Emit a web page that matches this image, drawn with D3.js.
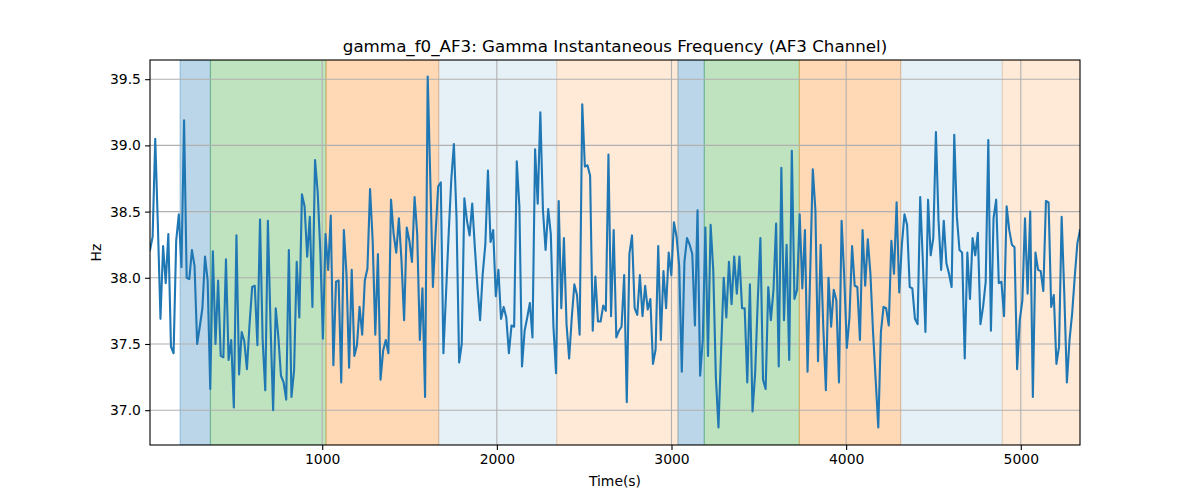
<!DOCTYPE html>
<html>
<head>
<meta charset="utf-8">
<script src="https://cdn.jsdelivr.net/npm/d3@7"></script>
<style>
  html, body { margin: 0; padding: 0; background: #ffffff; }
  svg { display: block; font-family: "DejaVu Sans", sans-serif; }
</style>
</head>
<body>
<svg id="chart" width="1200" height="500"></svg>
<script>
// ---- data ----
const chartTitle = "gamma_f0_AF3: Gamma Instantaneous Frequency (AF3 Channel)";
const xLabel = "Time(s)";
const yLabel = "Hz";
const xTicks = [1000, 2000, 3000, 4000, 5000];
const yTicks = [37.0, 37.5, 38.0, 38.5, 39.0, 39.5];
const yDomain = [36.737, 39.645];

const timeSec = [
  14,29,44,59,74,89,104,119,134,149,
  164,179,194,209,224,239,254,269,284,299,
  314,329,344,359,374,389,404,419,434,449,
  464,479,494,509,524,539,554,569,584,599,
  614,629,644,659,674,689,704,719,734,749,
  764,779,794,809,824,839,854,869,884,899,
  914,929,944,959,974,989,1004,1019,1034,1049,
  1064,1079,1094,1109,1124,1139,1154,1169,1184,1199,
  1214,1229,1244,1259,1274,1289,1304,1319,1334,1349,
  1364,1379,1394,1409,1424,1439,1454,1469,1484,1499,
  1514,1529,1544,1559,1574,1589,1604,1619,1634,1649,
  1664,1679,1694,1709,1724,1739,1754,1769,1784,1799,
  1814,1829,1844,1859,1874,1889,1904,1919,1934,1949,
  1964,1979,1994,2009,2024,2039,2054,2069,2084,2099,
  2114,2129,2144,2159,2174,2189,2204,2219,2234,2249,
  2264,2279,2294,2309,2324,2339,2354,2369,2384,2399,
  2414,2429,2444,2459,2474,2489,2504,2519,2534,2549,
  2564,2579,2594,2609,2624,2639,2654,2669,2684,2699,
  2714,2729,2744,2759,2774,2789,2804,2819,2834,2849,
  2864,2879,2894,2909,2924,2939,2954,2969,2984,2999,
  3014,3029,3044,3059,3074,3089,3104,3119,3134,3149,
  3164,3179,3194,3209,3224,3239,3254,3269,3284,3299,
  3314,3329,3344,3359,3374,3389,3404,3419,3434,3449,
  3464,3479,3494,3509,3524,3539,3554,3569,3584,3599,
  3614,3629,3644,3659,3674,3689,3704,3719,3734,3749,
  3764,3779,3794,3809,3824,3839,3854,3869,3884,3899,
  3914,3929,3944,3959,3974,3989,4004,4019,4034,4049,
  4064,4079,4094,4109,4124,4139,4154,4169,4184,4199,
  4214,4229,4244,4259,4274,4289,4304,4319,4334,4349,
  4364,4379,4394,4409,4424,4439,4454,4469,4484,4499,
  4514,4529,4544,4559,4574,4589,4604,4619,4634,4649,
  4664,4679,4694,4709,4724,4739,4754,4769,4784,4799,
  4814,4829,4844,4859,4874,4889,4904,4919,4934,4949,
  4964,4979,4994,5009,5024,5039,5054,5069,5084,5099,
  5114,5129,5144,5159,5174,5189,5204,5219,5234,5249,
  5264,5279,5294,5309,5324,5339
];

const freqHz = [
  38.21,38.31,39.05,38.40,37.69,38.24,37.96,38.33,37.48,37.43,
  38.28,38.48,38.08,39.19,38.00,37.99,38.21,38.09,37.50,37.63,
  37.77,38.16,37.98,37.16,38.20,37.50,37.98,37.41,37.40,38.14,
  37.38,37.53,37.02,38.32,37.27,37.59,37.52,37.31,37.65,37.93,
  37.94,37.49,38.44,37.53,37.15,38.43,37.65,37.00,37.77,37.55,
  37.26,37.21,37.08,38.21,37.10,37.30,38.12,37.70,38.63,38.54,
  38.16,38.46,37.78,38.89,38.65,38.21,37.54,38.33,38.06,38.47,
  37.34,37.97,37.98,37.21,38.36,38.03,37.32,38.06,37.41,37.49,
  37.78,37.57,37.98,38.07,38.67,38.28,37.57,38.18,37.23,37.45,
  37.53,37.43,38.59,38.33,38.19,38.45,38.13,37.68,38.38,38.28,
  38.12,38.61,38.33,37.53,37.92,37.10,39.52,38.74,37.93,38.33,
  38.69,38.72,37.43,37.88,38.33,38.74,39.01,38.46,37.36,37.50,
  38.60,38.43,38.32,38.56,38.23,37.93,37.68,38.03,38.25,38.81,
  38.27,38.36,37.86,38.06,37.69,37.78,37.70,37.43,37.64,37.63,
  38.88,38.54,37.33,37.60,37.70,37.81,37.55,38.97,38.56,39.25,
  38.51,38.21,38.52,38.33,37.63,37.28,38.58,37.77,38.30,37.65,
  37.39,37.70,37.95,37.87,37.57,39.31,38.84,38.85,38.77,37.60,
  38.01,37.67,37.67,37.79,37.75,38.93,37.71,38.36,37.55,37.60,
  37.63,38.02,37.06,38.18,38.32,37.77,37.72,38.02,37.71,37.94,
  37.76,37.84,37.35,37.46,38.24,37.53,38.05,37.77,38.19,38.02,
  38.42,38.31,38.09,37.29,38.12,38.30,38.25,38.18,37.64,38.51,
  37.26,37.53,38.38,37.41,38.40,38.06,37.25,36.87,37.45,38.00,
  37.70,38.12,37.80,38.16,37.88,38.16,37.77,37.77,37.21,37.95,
  36.99,37.28,37.83,38.30,37.23,37.16,37.93,37.68,37.91,38.41,
  37.33,38.83,37.68,38.25,37.38,38.96,37.84,37.91,38.48,37.92,
  38.36,37.29,38.03,38.82,38.51,37.37,38.25,37.63,37.15,38.00,
  37.63,37.91,37.83,37.21,38.43,38.01,37.47,37.70,38.24,37.94,
  37.93,37.53,38.36,37.94,38.29,38.03,37.59,37.23,36.87,37.59,
  37.78,37.77,37.64,38.28,38.03,38.57,37.89,38.25,38.48,38.40,
  37.93,37.92,37.69,37.65,38.61,38.13,37.59,38.59,38.17,38.30,
  39.10,38.43,38.06,38.43,38.11,38.03,37.93,39.08,38.46,38.21,
  38.19,37.39,38.19,37.84,38.30,38.17,38.34,37.65,37.78,37.97,
  39.04,37.60,38.45,38.59,37.96,37.97,37.71,38.54,38.36,38.25,
  38.23,37.31,37.68,37.83,38.45,37.88,38.50,37.10,38.19,38.06,
  38.05,37.90,38.58,38.57,37.78,37.87,37.35,37.48,38.46,37.88,
  37.21,37.53,37.73,38.01,38.26,38.36
];

// shaded state spans
const spanStart = [186, 360, 1022, 1667, 2343, 3037, 3188, 3732, 4312, 4894];
const spanEnd   = [360, 1022, 1667, 2343, 3037, 3188, 3732, 4312, 4894, 5400];
const spanColor = ["#1f77b4","#2ca02c","#ff7f0e","#1f77b4","#ff7f0e","#1f77b4","#2ca02c","#ff7f0e","#1f77b4","#ff7f0e"];
const spanAlpha = [0.3, 0.3, 0.3, 0.11, 0.16, 0.3, 0.3, 0.3, 0.11, 0.16];

// ---- layout ----
const m = { left: 150, right: 1080, top: 60, bottom: 445 };
const svg = d3.select("#chart");

const x = d3.scaleLinear().domain(d3.extent(timeSec)).range([m.left, m.right]);
const y = d3.scaleLinear().domain(yDomain).range([m.bottom, m.top]);

svg.append("defs").append("clipPath").attr("id", "clip")
  .append("rect").attr("x", m.left).attr("y", m.top)
  .attr("width", m.right - m.left).attr("height", m.bottom - m.top);

const spans = spanStart.map((s, i) => ({ s, e: spanEnd[i], c: spanColor[i], a: spanAlpha[i] }));

const gSpan = svg.append("g").attr("clip-path", "url(#clip)");
gSpan.selectAll("rect").data(spans).join("rect")
  .attr("x", d => x(d.s))
  .attr("y", m.top)
  .attr("width", d => x(d.e) - x(d.s))
  .attr("height", m.bottom - m.top)
  .attr("fill", d => d.c)
  .attr("fill-opacity", d => d.a)
  .attr("stroke", d => d.c)
  .attr("stroke-opacity", d => d.a)
  .attr("stroke-width", 1.2);

// grid
const gGrid = svg.append("g");
gGrid.selectAll("line.gx").data(xTicks).join("line")
  .attr("x1", d => x(d)).attr("x2", d => x(d))
  .attr("y1", m.top).attr("y2", m.bottom)
  .attr("stroke", "#b0b0b0").attr("stroke-width", 1.1);
gGrid.selectAll("line.gy").data(yTicks).join("line")
  .attr("y1", d => y(d)).attr("y2", d => y(d))
  .attr("x1", m.left).attr("x2", m.right)
  .attr("stroke", "#b0b0b0").attr("stroke-width", 1.1);

// line
const line = d3.line().x((d, i) => x(timeSec[i])).y(d => y(d));
svg.append("path").datum(freqHz)
  .attr("clip-path", "url(#clip)")
  .attr("d", line)
  .attr("fill", "none")
  .attr("stroke", "#1f77b4")
  .attr("stroke-width", 2.1)
  .attr("stroke-linejoin", "round")
  .attr("stroke-linecap", "square");

// axes
const xAxis = d3.axisBottom(x).tickValues(xTicks).tickFormat(d3.format("d"))
  .tickSize(4.9).tickPadding(4.2);
const yAxis = d3.axisLeft(y).tickValues(yTicks).tickFormat(d3.format(".1f"))
  .tickSize(4.9).tickPadding(4.2);

const gx = svg.append("g").attr("transform", `translate(0,${m.bottom})`).call(xAxis);
const gy = svg.append("g").attr("transform", `translate(${m.left},0)`).call(yAxis);
[gx, gy].forEach(g => {
  g.select(".domain").remove();
  g.selectAll(".tick line").attr("stroke", "#000").attr("stroke-width", 1.1);
  g.selectAll(".tick text").attr("fill", "#000")
    .style("font-family", "DejaVu Sans").style("font-size", "13.9px");
});

// spines
svg.append("rect")
  .attr("x", m.left).attr("y", m.top)
  .attr("width", m.right - m.left).attr("height", m.bottom - m.top)
  .attr("fill", "none").attr("stroke", "#000").attr("stroke-width", 1.1);

// labels
svg.append("text").attr("x", (m.left + m.right) / 2).attr("y", 52)
  .attr("text-anchor", "middle").style("font-size", "16.7px").attr("fill", "#000")
  .text(chartTitle);
svg.append("text").attr("x", (m.left + m.right) / 2).attr("y", 486)
  .attr("text-anchor", "middle").style("font-size", "13.9px").attr("fill", "#000")
  .text(xLabel);
svg.append("text")
  .attr("transform", `translate(101,${(m.top + m.bottom) / 2}) rotate(-90)`)
  .attr("text-anchor", "middle").style("font-size", "13.9px").attr("fill", "#000")
  .text(yLabel);
</script>
</body>
</html>
